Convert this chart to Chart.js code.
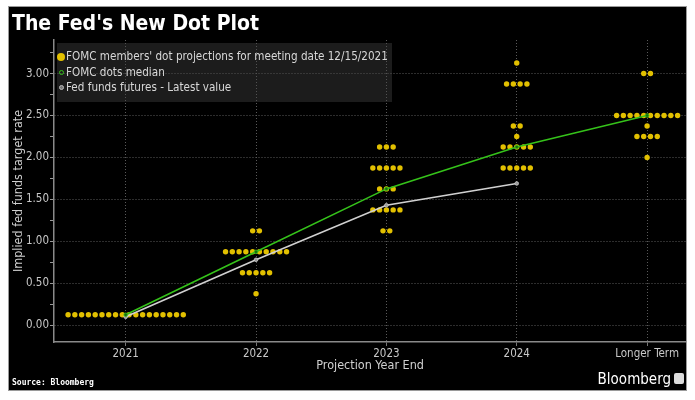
<!DOCTYPE html>
<html>
<head>
<meta charset="utf-8">
<script src="https://cdn.jsdelivr.net/npm/chart.js@4.4.1/dist/chart.umd.min.js"></script>
<style>
    body { margin: 0; background: #fff; width: 695px; height: 400px; overflow: hidden;
           font-family: 'Liberation Sans Narrow', 'DejaVu Sans Condensed', 'Liberation Sans', sans-serif; }
    #frame { position: absolute; left: 9px; top: 7px; width: 677px; height: 383px; background: #000;
             box-shadow: 0 0 0 1px #9a9a9a; overflow: hidden; }
    /* canvas rộng hơn 5px: Chart.js giữ lại 5px bên phải, phần đó bị cắt */
    #wrap { position: absolute; left: 0; top: 0; width: 682px; height: 383px; }
    #title { position: absolute; left: 3px; top: 4px; color: #fff; font-weight: bold; font-size: 21px;
             font-family: 'DejaVu Sans Condensed', 'DejaVu Sans', sans-serif; }
    #legend { position: absolute; left: 48px; top: 36px; width: 335px; height: 59px;
              background: rgba(70, 70, 70, 0.4); color: #d8d8d8; font-size: 11.6px; }
    .row { position: absolute; left: 0; height: 15px; line-height: 15px; white-space: nowrap; }
    .mk { position: absolute; border-radius: 50%; box-sizing: border-box; }
    .row span.t { position: absolute; left: 9px; top: 0; }
    #source { position: absolute; left: 3px; top: 371px; color: #fff; font-size: 8px; font-weight: bold;
              font-family: 'DejaVu Sans Mono', monospace; }
    #brand { position: absolute; right: 15px; top: 363px; color: #fff; font-size: 15px;
             font-family: 'DejaVu Sans Condensed', sans-serif; }
    #icon { position: absolute; right: 2px; top: 366px; width: 10px; height: 11px; background: #ddd; border-radius: 2px; }
</style>
</head>
<body>
<div id="frame">
    <div id="wrap"><canvas id="chart" width="682" height="383"></canvas></div>
    <div id="title">The Fed's New Dot Plot</div>
    <div id="legend"></div>
    <div id="source">Source: Bloomberg</div>
    <div id="brand">Bloomberg</div>
    <div id="icon"></div>
</div>
<script>
// Danh mục trục X
const categories = ['2021', '2022', '2023', '2024', 'Longer Term'];

// Các mức lãi suất và số chấm tại mỗi mức (theo từng năm)
const dotRates = [
    [0.125],
    [0.375, 0.625, 0.875, 1.125],
    [1.125, 1.375, 1.625, 1.875, 2.125],
    [1.875, 2.125, 2.25, 2.375, 2.875, 3.125],
    [2.0, 2.25, 2.375, 2.5, 3.0]
];
const dotCounts = [
    [18],
    [1, 5, 10, 2],
    [2, 5, 3, 5, 3],
    [5, 5, 1, 2, 4, 1],
    [1, 4, 1, 10, 2]
];

// Trung vị và hợp đồng tương lai
const medianValues = [0.125, 0.875, 1.625, 2.125, 2.5];
const futuresValues = [0.10, 0.78, 1.43, 1.69];

const seriesNames = [
    "FOMC members' dot projections for meeting date 12/15/2021",
    'FOMC dots median',
    'Fed funds futures - Latest value'
];
const yTicks = [0, 0.25, 0.5, 0.75, 1, 1.25, 1.5, 1.75, 2, 2.25, 2.5, 2.75, 3, 3.25];

const DOT_COLOR = '#e2c000';
const MEDIAN_COLOR = '#35c21a';
const FUTURES_COLOR = '#d0d0d0';
const DOT_STEP = 0.052; // khoảng cách ngang giữa các chấm (đơn vị trục x)

// Dựng điểm chấm: trải đều quanh vị trí năm
const dotPoints = [];
dotRates.forEach((rates, i) => {
    rates.forEach((r, k) => {
        const n = dotCounts[i][k];
        for (let j = 0; j < n; j++) {
            dotPoints.push({ x: i + (j - (n - 1) / 2) * DOT_STEP, y: r });
        }
    });
});

const FONT = "'Liberation Sans Narrow', 'DejaVu Sans Condensed', 'Liberation Sans', sans-serif";
Chart.defaults.font.family = FONT;
Chart.defaults.color = '#c8c8c8';

new Chart(document.getElementById('chart'), {
    type: 'scatter',
    data: {
        datasets: [
            {
                label: seriesNames[2],
                type: 'line',
                data: futuresValues.map((v, i) => ({ x: i, y: v })),
                borderColor: FUTURES_COLOR,
                borderWidth: 1.6,
                pointRadius: 1.8,
                pointBackgroundColor: '#999',
                pointBorderColor: FUTURES_COLOR,
                pointBorderWidth: 0.8,
                order: 1
            },
            {
                label: seriesNames[1],
                type: 'line',
                data: medianValues.map((v, i) => ({ x: i, y: v })),
                borderColor: MEDIAN_COLOR,
                borderWidth: 1.6,
                pointRadius: 1.8,
                pointBackgroundColor: '#1a6e10',
                pointBorderColor: MEDIAN_COLOR,
                pointBorderWidth: 0.8,
                order: 0
            },
            {
                label: seriesNames[0],
                data: dotPoints,
                backgroundColor: DOT_COLOR,
                borderColor: DOT_COLOR,
                pointRadius: 2.7,
                borderWidth: 0,
                order: 2
            }
        ]
    },
    options: {
        responsive: false,
        animation: false,
        maintainAspectRatio: false,
        layout: { padding: { top: 33, right: 0, left: 0, bottom: 17 } },
        plugins: { legend: { display: false }, tooltip: { enabled: false } },
        scales: {
            x: {
                type: 'linear',
                min: -0.55,
                max: 4.3,
                afterBuildTicks: s => { s.ticks = categories.map((c, i) => ({ value: i })); },
                afterFit: s => { s.height = 31; },
                ticks: {
                    callback: v => categories[v],
                    font: { size: 11.5 },
                    padding: 1,
                    maxRotation: 0
                },
                grid: { color: '#5a5a5a', tickColor: '#777', tickLength: 4, lineWidth: 1 },
                border: { color: '#8a8a8a', width: 1.5, dash: [1, 2] },
                title: { display: true, text: 'Projection Year End', font: { size: 12.5 }, color: '#d0d0d0', padding: { top: 0, bottom: 0 } }
            },
            y: {
                min: -0.2,
                max: 3.4,
                afterBuildTicks: s => { s.ticks = yTicks.map(v => ({ value: v })); },
                afterFit: s => { s.width = 45; },
                ticks: {
                    callback: v => (v % 0.5 === 0 ? v.toFixed(2) : ''),
                    font: { size: 11.5 },
                    padding: 1
                },
                grid: {
                    color: c => (c.tick && c.tick.value % 0.5 === 0 ? '#5a5a5a' : 'rgba(0,0,0,0)'),
                    tickColor: '#999',
                    tickLength: 4,
                    lineWidth: 1
                },
                border: { color: '#8a8a8a', width: 1.5, dash: [1, 2] },
                title: { display: true, text: 'Implied fed funds target rate', font: { size: 12.5 }, color: '#d0d0d0', padding: { top: 2, bottom: 0 } }
            }
        }
    }
});

// Chú giải HTML dựng từ tên chuỗi
const legendEl = document.getElementById('legend');
const markers = [
    { size: 8, bg: DOT_COLOR, border: 'none' },
    { size: 5, bg: 'transparent', border: '1px solid ' + MEDIAN_COLOR },
    { size: 5, bg: '#777', border: '1px solid #bbb' }
];
seriesNames.forEach((name, i) => {
    const row = document.createElement('div');
    row.className = 'row';
    row.style.top = (6 + i * 15.5) + 'px';
    const m = markers[i];
    const mk = document.createElement('span');
    mk.className = 'mk';
    mk.style.width = m.size + 'px';
    mk.style.height = m.size + 'px';
    mk.style.left = (4 - m.size / 2) + 'px';
    mk.style.top = (7.5 - m.size / 2) + 'px';
    mk.style.background = m.bg;
    mk.style.border = m.border;
    const t = document.createElement('span');
    t.className = 't';
    t.textContent = name;
    row.appendChild(mk);
    row.appendChild(t);
    legendEl.appendChild(row);
});
</script>
</body>
</html>
